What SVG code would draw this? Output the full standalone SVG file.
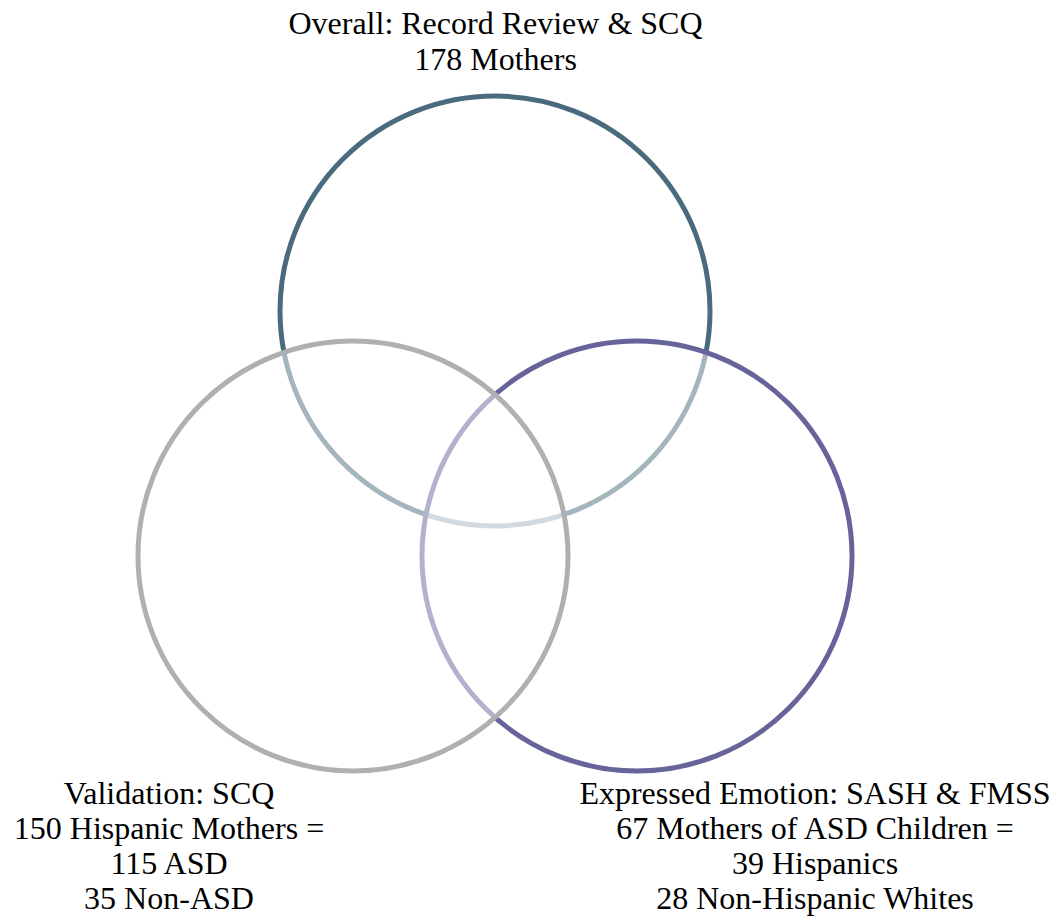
<svg xmlns="http://www.w3.org/2000/svg" width="1063" height="923" viewBox="0 0 1063 923">
<style>
  .lbl { font-family: "Liberation Serif", "Times New Roman", serif; font-size: 32px; fill: #000; text-anchor: middle; }
  .ring { stroke-width: 5; }
</style>
<rect width="1063" height="923" fill="#fff"/>
<g id="overall">
  <circle class="ring" cx="495" cy="311" r="215" fill="none" stroke="#4a6b7d"/>
  <text class="lbl" x="495.5" y="34">Overall: Record Review &amp; SCQ</text>
  <text class="lbl" x="495.5" y="70">178 Mothers</text>
</g>
<g id="expressed-emotion">
  <circle class="ring" cx="637" cy="556" r="215" fill="#fff" fill-opacity="0.5" stroke="#66649a"/>
  <text class="lbl" x="815" y="804">Expressed Emotion: SASH &amp; FMSS</text>
  <text class="lbl" x="815" y="839">67 Mothers of ASD Children =</text>
  <text class="lbl" x="815" y="874">39 Hispanics</text>
  <text class="lbl" x="815" y="909">28 Non-Hispanic Whites</text>
</g>
<g id="validation">
  <circle class="ring" cx="353" cy="556" r="215" fill="#fff" fill-opacity="0.5" stroke="#b0b0b0"/>
  <text class="lbl" x="169" y="804">Validation: SCQ</text>
  <text class="lbl" x="169" y="839">150 Hispanic Mothers =</text>
  <text class="lbl" x="169" y="874">115 ASD</text>
  <text class="lbl" x="169" y="909">35 Non-ASD</text>
</g>
<g id="connectors"/>
</svg>
